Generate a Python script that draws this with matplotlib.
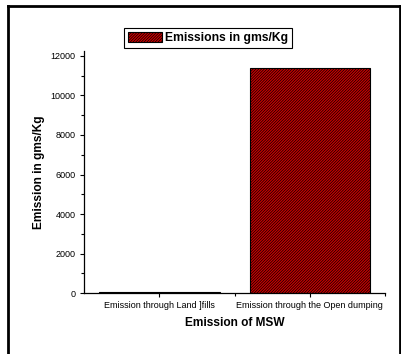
import matplotlib.pyplot as plt
import numpy as np
from matplotlib.lines import Line2D

plt.rcParams['font.family'] = ['Liberation Sans', 'DejaVu Sans']
plt.rcParams['hatch.linewidth'] = 0.5

# data
categories = ["Emission through Land ]fills", "Emission through the Open dumping"]
emissions = [40, 11380]

fig = plt.figure(figsize=(4.02, 3.54), dpi=100)
ax = fig.add_axes([0.209, 0.172, 0.749, 0.684])

x = np.arange(len(categories))
ax.bar(x, emissions, width=0.8, color='#cc0000', edgecolor='black',
       hatch='////////////', linewidth=0.8, label='Emissions in gms/Kg')

ax.set_xlim(-0.5, 1.5)
ax.set_ylim(0, 12250)
ax.set_xticks(x)
ax.set_xticklabels(categories, fontsize=6.5)
ax.set_xticks([0.5, 1.5], minor=True)
ax.set_yticks(np.arange(0, 12001, 2000))
ax.set_yticks(np.arange(1000, 12001, 2000), minor=True)
ax.tick_params(axis='both', which='major', labelsize=6.5, length=3, width=0.8, pad=3)
ax.tick_params(axis='both', which='minor', length=2, width=0.8)

for s in ['top', 'right']:
    ax.spines[s].set_visible(False)
for s in ['left', 'bottom']:
    ax.spines[s].set_linewidth(0.9)

ax.set_xlabel("Emission of MSW", fontsize=8.6, fontweight='bold', labelpad=5)
ax.set_ylabel("Emission in gms/Kg", fontsize=8.6, fontweight='bold', labelpad=4)

leg = fig.legend(loc='center', bbox_to_anchor=(0.518, 0.893),
                 prop={'weight': 'bold', 'size': 8.7}, fancybox=False,
                 edgecolor='black', framealpha=1, handlelength=2.8,
                 handleheight=1.0, borderpad=0.3, handletextpad=0.3)
leg.get_frame().set_linewidth(0.8)

# outer frame
fw = 2.0
fig.add_artist(Line2D([0.019, 0.019], [0.0, 0.983], color='black', lw=fw, transform=fig.transFigure))
fig.add_artist(Line2D([0.019, 0.995], [0.983, 0.983], color='black', lw=fw, transform=fig.transFigure))
fig.add_artist(Line2D([0.995, 0.995], [0.0, 0.983], color='black', lw=fw, transform=fig.transFigure))

fig.savefig("out.png", dpi=100)
